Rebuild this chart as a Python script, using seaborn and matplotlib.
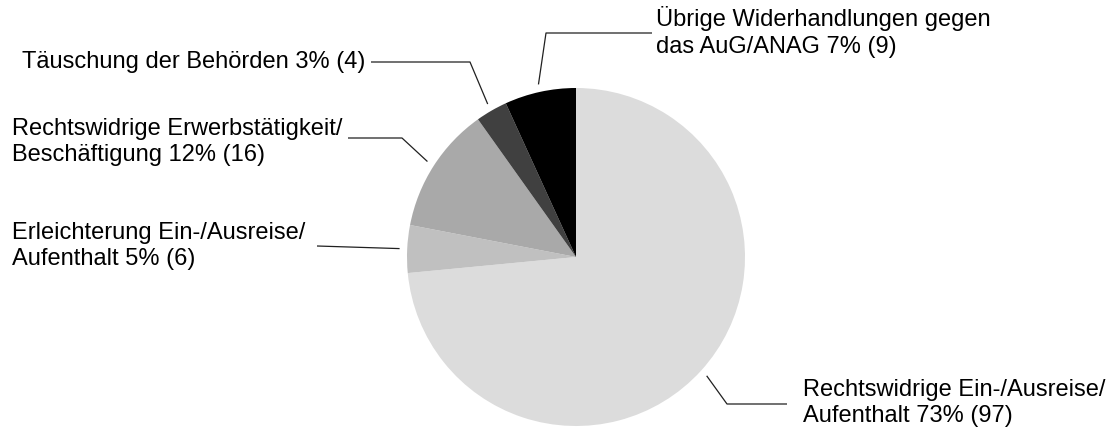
import numpy as np
import matplotlib
matplotlib.use("Agg")
import matplotlib.pyplot as plt
import seaborn as sns

# Offence categories (in clockwise order from 12 o'clock) and case counts
categories = [
    "Rechtswidrige Ein-/Ausreise/\nAufenthalt",
    "Erleichterung Ein-/Ausreise/\nAufenthalt",
    "Rechtswidrige Erwerbstätigkeit/\nBeschäftigung",
    "Täuschung der Behörden",
    "Übrige Widerhandlungen gegen\ndas AuG/ANAG",
]
counts = [97, 6, 16, 4, 9]
colors = ["#dcdcdc", "#c0c0c0", "#a9a9a9", "#404040", "#000000"]

# Label placement in figure pixels: text anchor (left, vertical centre) and leader path
label_xy = [(803, 403), (12, 246), (12, 142), (22, 62), (656, 32)]
leader_paths = [
    [(787, 404), (727, 404)],
    [(317, 246)],
    [(348, 138), (402, 138)],
    [(371, 62), (470, 62)],
    [(652, 33), (546, 33)],
]

W, H = 1111, 432
sns.set_theme(style="white")
plt.rcParams["font.family"] = ["Liberation Sans", "DejaVu Sans"]

fig = plt.figure(figsize=(W / 100, H / 100), dpi=100)
ax = fig.add_axes([0, 0, 1, 1])


def px(x, y):
    return x, H - y


center_px = (576, 257)
radius = 169
palette = sns.color_palette(colors)
wedges, _ = ax.pie(
    counts,
    colors=palette,
    startangle=90,
    counterclock=False,
    center=px(*center_px),
    radius=radius,
    frame=True,
    wedgeprops=dict(linewidth=0),
)
ax.set_xlim(0, W)
ax.set_ylim(0, H)
ax.set_aspect("equal")
ax.set_axis_off()

total = sum(counts)
cx, cy = px(*center_px)
for wedge, name, n, (tx, ty), path in zip(wedges, categories, counts, label_xy, leader_paths):
    pct = int(round(100 * n / total))
    ax.text(*px(tx, ty), f"{name} {pct}% ({n})", ha="left", va="center",
            fontsize=17, color="#000000", linespacing=1.24)
    mid = np.deg2rad((wedge.theta1 + wedge.theta2) / 2)
    ex = cx + 1.045 * radius * np.cos(mid)
    ey = cy + 1.045 * radius * np.sin(mid)
    pts = [px(x, y) for x, y in path] + [(ex, ey)]
    xs, ys = zip(*pts)
    ax.plot(xs, ys, color="#202020", lw=0.9, solid_capstyle="butt")

fig.savefig("out.png", dpi=100, facecolor="white")
